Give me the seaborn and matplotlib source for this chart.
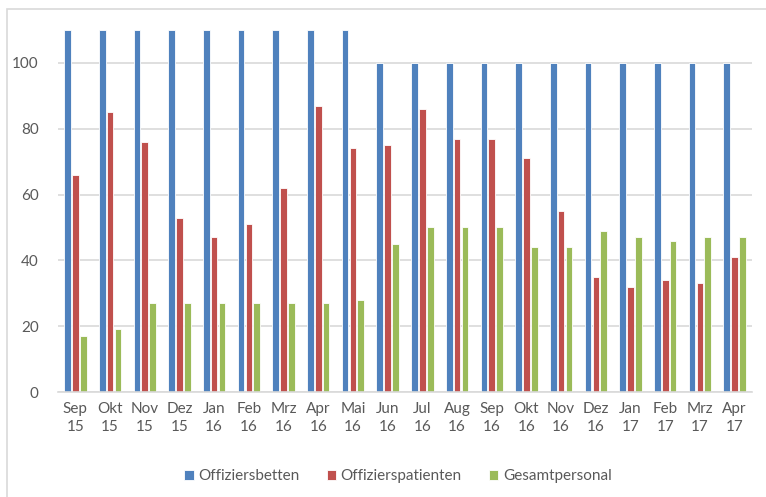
import matplotlib
matplotlib.use("Agg")
import matplotlib.pyplot as plt
import seaborn as sns
import pandas as pd
from matplotlib.patches import Rectangle

months = ["Sep\n15", "Okt\n15", "Nov\n15", "Dez\n15", "Jan\n16", "Feb\n16", "Mrz\n16",
          "Apr\n16", "Mai\n16", "Jun\n16", "Jul\n16", "Aug\n16", "Sep\n16", "Okt\n16",
          "Nov\n16", "Dez\n16", "Jan\n17", "Feb\n17", "Mrz\n17", "Apr\n17"]
offiziersbetten = [110, 110, 110, 110, 110, 110, 110, 110, 110, 100,
                   100, 100, 100, 100, 100, 100, 100, 100, 100, 100]
offizierspatienten = [66, 85, 76, 53, 47, 51, 62, 87, 74, 75,
                      86, 77, 77, 71, 55, 35, 32, 34, 33, 41]
gesamtpersonal = [17, 19, 27, 27, 27, 27, 27, 27, 28, 45,
                  50, 50, 50, 44, 44, 49, 47, 46, 47, 47]
series_names = ["Offiziersbetten", "Offizierspatienten", "Gesamtpersonal"]
colors = ["#4F81BD", "#C0504D", "#9BBB59"]

df = pd.DataFrame({
    "Monat": months * 3,
    "Wert": offiziersbetten + offizierspatienten + gesamtpersonal,
    "Serie": [series_names[0]] * 20 + [series_names[1]] * 20 + [series_names[2]] * 20,
})

sns.set_theme(style="white")
plt.rcParams['font.family'] = ['Lato', 'DejaVu Sans']
text_color = "#595959"

fig = plt.figure(figsize=(7.66, 4.97), dpi=100)
ax = fig.add_axes([58 / 766, 1 - 392 / 497, (752 - 58) / 766, (392 - 30) / 497])

sns.barplot(data=df, x="Monat", y="Wert", hue="Serie", palette=colors,
            width=0.68, gap=0.15, ax=ax, edgecolor="white", linewidth=0.6,
            saturation=1, legend=True)

ax.set_ylim(0, 110)
ax.set_xlim(-0.5, 19.5)
ax.set_yticks([0, 20, 40, 60, 80, 100])
ax.yaxis.grid(True, color="#D9D9D9", linewidth=1.2)
ax.set_axisbelow(True)
for s in ["top", "right", "left"]:
    ax.spines[s].set_visible(False)
ax.spines["bottom"].set_color("#D9D9D9")
ax.spines["bottom"].set_linewidth(1.2)
ax.set_xlabel("")
ax.set_ylabel("")
ax.tick_params(axis="y", length=0, labelsize=11, labelcolor=text_color, pad=14)
ax.tick_params(axis="x", length=0, labelsize=11, labelcolor=text_color, pad=7)
for lbl in ax.get_xticklabels():
    lbl.set_linespacing(1.35)

# category boundary ticks
ax.set_xticks([i - 0.5 for i in range(21)], minor=True)
ax.tick_params(axis="x", which="minor", length=5, color="#D9D9D9", width=1.2, direction="out")

leg = ax.legend(loc="upper center", bbox_to_anchor=(0.49, -0.175), ncol=3, frameon=False,
                fontsize=11, handlelength=0.6, handleheight=0.6, handletextpad=0.3,
                columnspacing=1.8, labelcolor=text_color)

fig.patches.append(Rectangle((7 / 766, -0.1), 1.2, 1 - 9 / 497 + 0.1,
                             transform=fig.transFigure, fill=False,
                             edgecolor="#D9D9D9", linewidth=1.2))

fig.savefig("out.png", dpi=100)
